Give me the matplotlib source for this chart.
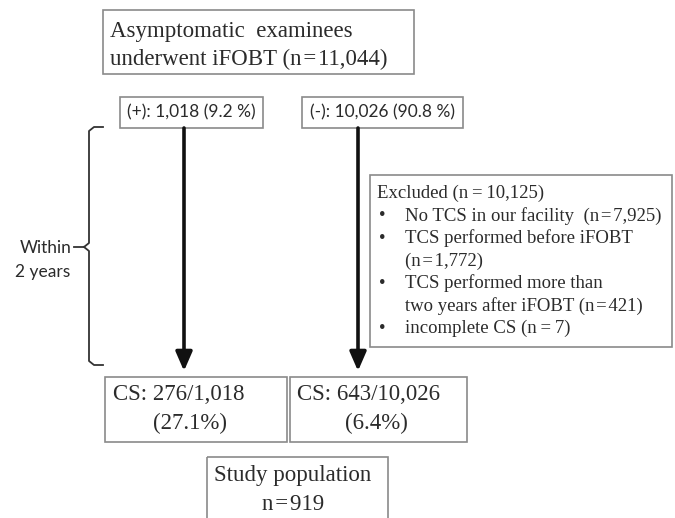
import matplotlib.pyplot as plt
from matplotlib.patches import Rectangle

# flowchart content
serif = 'Liberation Serif'
sans = 'Lato'
edge = '#8a8a8a'
txt = '#2b2b2b'

total_lines = ['Asymptomatic  examinees', 'underwent iFOBT (n\u200a=\u200a11,044)']
pos_label = '(+): 1,018 (9.2 %)'
neg_label = '(-): 10,026 (90.8 %)'
cs_pos = ['CS: 276/1,018', '(27.1%)']
cs_neg = ['CS: 643/10,026', '(6.4%)']
study = ['Study population', 'n\u200a=\u200a919']
excluded_head = 'Excluded (n\u2009=\u200910,125)'
excluded_items = [['No TCS in our facility  (n\u200a=\u200a7,925)'],
                  ['TCS performed before iFOBT', '(n\u200a=\u200a1,772)'],
                  ['TCS performed more than', 'two years after iFOBT (n\u200a=\u200a421)'],
                  ['incomplete CS (n\u2009=\u20097)']]

fig = plt.figure(figsize=(6.75, 5.18), dpi=100)
ax = fig.add_axes([0, 0, 1, 1])
ax.set_xlim(0, 675)
ax.set_ylim(518, 0)
ax.axis('off')


def box(x0, y0, x1, y1):
    ax.add_patch(Rectangle((x0, y0), x1 - x0, y1 - y0, fill=False, ec=edge, lw=1.2))


def stext(x, y, s, ha='left', size=16.5):
    ax.text(x, y, s, family=serif, fontsize=size, color=txt, ha=ha, va='center')


# top box
box(103, 10, 414, 74)
stext(110, 31, total_lines[0])
stext(110, 59, total_lines[1])

# result boxes
box(120, 97, 263, 128)
ax.text(191.5, 112, pos_label, family=sans, fontsize=12.5, color=txt, ha='center', va='center')
box(302, 97, 463, 128)
ax.text(382.5, 112, neg_label, family=sans, fontsize=12.5, color=txt, ha='center', va='center')

# arrows
for x in [184, 358]:
    ax.annotate('', xy=(x, 371), xytext=(x, 128),
                arrowprops=dict(arrowstyle='-|>,head_length=1.15,head_width=0.5', color='#111111',
                                lw=2.6, shrinkA=0, shrinkB=0))

# bracket
bk = '#333333'
ax.plot([103, 94, 89, 89, 84, 74], [127, 127, 131, 243, 247, 247], color=bk, lw=1.3)
ax.plot([84, 89, 89, 94, 103], [247, 251, 361, 365, 365], color=bk, lw=1.3)
ax.text(72, 248, 'Within', family=sans, fontsize=12.5, color=txt, ha='right', va='center')
ax.text(70, 272, '2 years', family=sans, fontsize=12.5, color=txt, ha='right', va='center')

# excluded box
box(370, 175, 672, 347)
stext(377, 193, excluded_head, size=13.5)
y = 216
for item in excluded_items:
    stext(379, y, '\u2022', size=13.5)
    for ln in item:
        stext(405, y, ln, size=13.5)
        y += 22.5

# CS boxes
box(105, 377, 287, 442)
stext(113, 395, cs_pos[0])
stext(190, 423, cs_pos[1], ha='center')
box(290, 377, 467, 442)
stext(297, 395, cs_neg[0])
stext(376, 423, cs_neg[1], ha='center')

# study population
box(207, 457, 388, 530)
stext(293, 475, study[0], ha='center')
stext(293, 505, study[1], ha='center')

fig.savefig('out.png', dpi=100)
